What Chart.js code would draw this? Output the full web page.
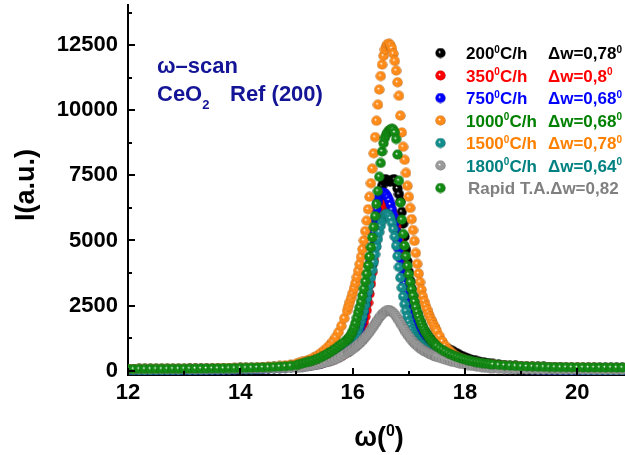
<!DOCTYPE html>
<html>
<head>
<meta charset="utf-8">
<script src="https://cdn.jsdelivr.net/npm/chart.js@4.4.1/dist/chart.umd.min.js"></script>
<style>
  html, body { margin: 0; padding: 0; background: #fff; }
  #wrap { width: 625px; height: 455px; }
</style>
</head>
<body>
<div id="wrap"><canvas id="scan"></canvas></div>
<script>
const FONT = '"Liberation Sans", Arial, sans-serif';

// omega grid (deg): coarse in the tails, fine across the peak
const omega = [
  12.0,12.1,12.2,12.3,12.4,12.5,12.6,12.7,12.8,12.9,13.0,13.1,13.2,13.3,13.4,13.5,13.6,13.7,13.8,13.9,
  14.0,14.1,14.2,14.3,14.4,14.5,14.6,14.7,14.8,14.9,15.0,
  15.05,15.1,15.15,15.2,15.25,15.3,15.35,15.4,15.45,15.5,15.55,15.6,15.65,15.7,15.75,15.8,15.85,
  15.9,15.925,15.95,15.975,16.0,16.025,16.05,16.075,16.1,16.125,16.15,16.175,16.2,16.225,16.25,16.275,
  16.3,16.325,16.35,16.375,16.4,16.425,16.45,16.475,16.5,16.525,16.55,16.575,16.6,16.625,16.65,16.675,
  16.7,16.725,16.75,16.775,16.8,16.825,16.85,16.875,16.9,16.925,16.95,16.975,17.0,17.025,17.05,17.075,
  17.1,17.125,17.15,17.175,17.2,17.225,17.25,17.275,17.3,17.325,17.35,17.375,17.4,17.425,17.45,17.475,17.5,
  17.55,17.6,17.65,17.7,17.75,17.8,17.85,17.9,17.95,18.0,18.05,18.1,18.15,18.2,18.25,18.3,18.35,18.4,18.45,18.5,
  18.6,18.7,18.8,18.9,19.0,19.1,19.2,19.3,19.4,19.5,19.6,19.7,19.8,19.9,20.0,20.1,20.2,20.3,20.4,20.5,20.6,20.7,20.8
];

const rate200 = [
  50,51,52,53,54,55,56,57,58,59,60,62,64,66,68,70,72,75,78,81,85,89,93,98,103,109,116,124,135,150,165,
  180,190,200,215,230,250,270,295,320,350,385,425,470,530,600,680,780,
  900,960,1030,1100,1180,1270,1370,1480,1600,1740,1890,2060,2250,2470,2720,3000,3320,3680,4080,4500,
  4900,5350,5850,6350,6800,7100,7280,7350,7330,7290,7260,7280,7320,7350,7330,7200,7000,6780,6500,6100,
  5650,5150,4650,4200,3800,3450,3150,2870,2620,2400,2200,2030,1880,1750,1640,1540,1450,1370,1300,1240,
  1180,1130,1080,1040,1000,
  960,920,880,840,790,730,670,610,560,510,470,430,400,370,345,322,302,285,270,256,
  232,212,196,182,170,160,152,145,139,134,130,126,123,120,118,116,114,112,111,110,109,108,107
];

const rate350 = [
  20,20,21,22,23,24,25,26,27,28,30,32,34,36,38,40,43,46,50,54,59,64,70,77,85,94,104,115,127,140,154,
  162,172,184,197,211,227,245,265,288,314,343,376,414,457,506,562,625,
  695,740,790,845,905,975,1050,1140,1240,1360,1500,1660,1850,2070,2320,2610,2950,3340,3780,4250,
  4730,5180,5570,5880,6110,6270,6380,6440,6460,6440,6380,6280,6140,5970,5770,5540,5290,5010,4710,4390,
  4060,3720,3390,3080,2790,2530,2300,2100,1920,1760,1620,1500,1390,1290,1200,1120,1050,990,935,885,
  840,800,760,725,690,
  630,578,532,490,452,418,386,357,330,306,284,264,245,228,212,198,185,173,162,152,
  134,119,106,95,86,78,71,65,60,56,52,49,46,44,42,40,38,37,36,35,34,33,32
];

const rate750 = [
  0,0,1,2,3,4,5,6,7,8,10,12,14,16,18,20,23,26,30,34,39,44,50,57,65,74,84,95,107,120,134,
  145,158,172,187,203,220,240,262,287,315,347,383,425,473,528,590,660,
  740,790,850,920,1000,1090,1190,1310,1450,1610,1800,2020,2270,2560,2890,3270,3700,4200,4750,5300,
  5800,6200,6500,6700,6800,6840,6840,6810,6750,6660,6540,6380,6180,5950,5680,5360,5020,4670,4320,3980,
  3650,3340,3050,2780,2530,2310,2110,1930,1770,1630,1500,1390,1290,1200,1120,1050,990,930,880,830,
  790,750,710,680,650,
  600,555,515,478,444,412,382,354,328,304,282,262,243,225,208,192,177,163,150,138,
  116,97,81,67,55,45,37,30,24,19,15,12,9,7,5,4,3,2,1,0,0,-1,-2
];

const rate1000 = [
  60,60,62,62,64,65,66,68,70,72,74,76,78,80,83,86,90,94,98,103,108,114,120,128,137,147,160,176,200,230,265,
  300,330,360,400,440,490,550,620,700,790,890,1000,1130,1290,1480,1720,2010,
  2300,2470,2640,2800,2980,3170,3370,3590,3830,4090,4370,4670,5000,5360,5760,6200,6680,7200,7760,8350,
  8970,9600,10220,10800,11320,11760,12100,12340,12480,12550,12560,12500,12380,12180,11900,11530,11080,10560,9800,9150,
  8600,8100,7600,7100,6680,6250,5820,5400,4980,4520,4100,3730,3400,3110,2850,2660,2490,2350,2210,2080,
  1960,1840,1730,1620,1520,
  1320,1120,950,820,720,630,560,500,450,410,375,345,320,298,280,264,250,238,227,217,
  200,186,174,164,155,147,140,134,129,124,120,116,113,110,107,105,103,101,99,97,96,95,94
];

const rate1500 = [
  10,10,11,12,12,13,14,15,16,17,18,20,22,24,26,28,31,34,38,42,47,52,58,65,73,82,92,103,115,128,140,
  150,165,180,195,210,230,250,275,300,330,365,405,450,505,570,630,690,
  750,820,900,990,1090,1200,1320,1450,1590,1750,1920,2110,2310,2530,2770,3030,3300,3580,3870,4170,
  4470,4770,5060,5330,5570,5770,5910,5990,6020,6010,5950,5840,5670,5440,5150,4800,4400,3980,3570,3190,
  2850,2550,2290,2070,1880,1720,1580,1460,1350,1260,1180,1110,1050,990,940,890,850,810,770,735,
  700,670,640,615,590,
  550,510,475,440,410,380,350,325,300,278,258,240,222,206,192,178,166,155,145,136,
  120,106,94,84,75,67,60,54,49,44,40,36,33,30,28,26,24,22,21,20,19,18,17
];

const rate1800 = [
  40,40,41,41,42,42,43,44,45,46,47,48,49,50,52,54,56,58,60,62,64,67,70,73,76,80,84,89,95,101,108,
  120,135,150,165,180,200,220,245,270,300,330,365,400,440,485,550,620,
  680,715,750,790,830,870,910,955,1000,1050,1105,1160,1220,1285,1350,1420,1490,1565,1640,1720,
  1800,1880,1960,2040,2110,2170,2220,2260,2290,2300,2300,2290,2260,2220,2160,2090,2010,1920,1830,1740,
  1650,1560,1470,1390,1310,1240,1170,1110,1050,1000,950,905,865,825,790,755,725,695,665,640,
  615,590,570,550,530,
  490,455,420,388,358,330,303,278,255,233,213,194,176,160,145,131,118,106,95,85,
  70,60,52,46,42,39,37,35,34,33,32,31,30,30,29,29,28,28,27,27,26,26,25
];

const rapidTA = [
  60,60,61,62,63,64,65,66,68,70,72,74,76,78,80,83,86,89,92,96,100,105,110,116,123,131,140,152,167,185,210,
  250,275,300,330,360,395,435,480,530,585,645,710,780,855,935,1020,1100,
  1180,1240,1310,1400,1520,1660,1830,2030,2230,2430,2640,2880,3140,3420,3720,4040,4380,4740,5120,5520,
  5940,6400,6900,7450,7980,8420,8740,8950,9080,9170,9230,9270,9290,9260,9150,8900,8300,7300,6450,5800,
  5250,4800,4400,4030,3700,3400,3130,2880,2650,2440,2250,2080,1930,1800,1680,1570,1470,1380,1300,1230,
  1160,1100,1040,990,940,
  860,790,730,670,620,570,530,490,455,425,395,370,345,325,305,288,272,258,245,233,
  215,200,187,176,166,158,151,145,140,136,132,129,126,124,122,120,118,117,116,115,114,113,112
];

const series = [rate200, rate350, rate750, rate1000, rate1500, rate1800, rapidTA];

// legend entries, in plotting order
const legendRates = ['200', '350', '750', '1000', '1500', '1800', 'Rapid T.A.'];
const legendFwhm  = ['0,78', '0,8', '0,68', '0,68', '0,78', '0,64', '0,82'];

const markerColors = ['#000000', '#ff0000', '#0000ff', '#ff8c1a', '#138c8c', '#9a9a9a', '#138a13'];
const textColors   = ['#000000', '#ff0000', '#0000ff', '#008000', '#ff8000', '#008080', '#808080'];

const xTicks = [12, 14, 16, 18, 20];
const xMinor = [13, 15, 17, 19];
const yTicks = [0, 2500, 5000, 7500, 10000, 12500];
const yMinor = [1250, 3750, 6250, 8750, 11250, 13750];

function shade(hex, f) {
  const n = parseInt(hex.slice(1), 16);
  return `rgb(${((n >> 16) & 255) * f | 0},${((n >> 8) & 255) * f | 0},${(n & 255) * f | 0})`;
}

// small shaded sphere used as the point marker
function ball(color) {
  const c = document.createElement('canvas');
  c.width = c.height = 11;
  const g = c.getContext('2d');
  const grad = g.createRadialGradient(4.4, 4.4, 0.2, 5.5, 5.5, 5.3);
  grad.addColorStop(0, '#ffffff');
  grad.addColorStop(0.25, color);
  grad.addColorStop(0.8, color);
  grad.addColorStop(1, shade(color, 0.6));
  g.fillStyle = grad;
  g.beginPath();
  g.arc(5.5, 5.5, 5.1, 0, Math.PI * 2);
  g.fill();
  return c;
}
const balls = markerColors.map(ball);

// text with optional superscript / subscript pieces
function drawParts(ctx, parts, x, base, size, color) {
  ctx.fillStyle = color;
  ctx.textAlign = 'left';
  ctx.textBaseline = 'alphabetic';
  for (const [t, kind] of parts) {
    const s = kind ? Math.round(size * 0.6) : size;
    ctx.font = `bold ${s}px ${FONT}`;
    const dy = kind === 'sup' ? -size * 0.36 : kind === 'sub' ? size * 0.36 : 0;
    ctx.fillText(t, x, base + dy);
    x += ctx.measureText(t).width;
  }
  return x;
}

function partsWidth(ctx, parts, size) {
  let w = 0;
  for (const [t, kind] of parts) {
    ctx.font = `bold ${kind ? Math.round(size * 0.6) : size}px ${FONT}`;
    w += ctx.measureText(t).width;
  }
  return w;
}

const decor = {
  id: 'decor',
  afterDraw(chart) {
    const { ctx, chartArea: a, scales: { x, y } } = chart;
    ctx.save();

    // inward tick marks
    ctx.strokeStyle = '#000';
    ctx.lineWidth = 2;
    ctx.beginPath();
    const tick = (scale, vals, len, horiz) => vals.forEach(v => {
      const p = Math.round(scale.getPixelForValue(v));
      if (horiz) { ctx.moveTo(p, a.bottom); ctx.lineTo(p, a.bottom - len); }
      else { ctx.moveTo(a.left, p); ctx.lineTo(a.left + len, p); }
    });
    tick(x, xTicks, 7, true);
    tick(x, xMinor, 4, true);
    tick(y, yTicks, 7, false);
    tick(y, yMinor, 4, false);
    ctx.stroke();

    // sample label
    const navy = '#141496';
    drawParts(ctx, [['ω–scan']], 157, 73, 22, navy);
    drawParts(ctx, [['CeO'], ['2', 'sub']], 157, 101, 22, navy);
    drawParts(ctx, [['Ref (200)']], 230, 101, 22, navy);

    // legend
    legendRates.forEach((r, i) => {
      const yy = 53 + i * 22.5;
      ctx.drawImage(balls[i], 435, yy - 5.5);
      const base = yy + 6;
      if (i < 6) {
        drawParts(ctx, [[r], ['0', 'sup'], ['C/h']], 466, base, 17, textColors[i]);
        drawParts(ctx, [['Δw=' + legendFwhm[i]], ['0', 'sup']], 548, base, 17, textColors[i]);
      } else {
        drawParts(ctx, [[r + 'Δw=' + legendFwhm[i]]], 468, base, 17, textColors[i]);
      }
    });

    // axis titles
    const xt = [['ω('], ['0', 'sup'], [')']];
    drawParts(ctx, xt, 379 - partsWidth(ctx, xt, 27) / 2, 446, 27, '#000');

    ctx.translate(27, 185);
    ctx.rotate(-Math.PI / 2);
    ctx.font = `bold 27px ${FONT}`;
    ctx.fillStyle = '#000';
    ctx.textAlign = 'center';
    ctx.textBaseline = 'middle';
    ctx.fillText('I(a.u.)', 0, 0);
    ctx.restore();
  }
};

const tickFont = { family: FONT, size: 22, weight: 'bold' };

new Chart(document.getElementById('scan'), {
  type: 'scatter',
  data: {
    datasets: series.map((ys, i) => ({
      data: ys.map((v, k) => ({ x: omega[k], y: v })),
      pointStyle: balls[i],
      pointRadius: 5,
      showLine: false,
      order: series.length - 1 - i
    }))
  },
  options: {
    responsive: true,
    maintainAspectRatio: false,
    animation: false,
    devicePixelRatio: 1,
    layout: { autoPadding: false, padding: { top: 5, right: 0, bottom: 0, left: 0 } },
    plugins: { legend: { display: false }, tooltip: { enabled: false } },
    scales: {
      x: {
        type: 'linear', min: 12, max: 20.85,
        grid: { display: false, drawTicks: false },
        border: { display: true, color: '#000', width: 2 },
        ticks: { font: tickFont, color: '#000', padding: 5, maxRotation: 0, callback: v => String(v) },
        afterBuildTicks: s => { s.ticks = xTicks.map(v => ({ value: v })); },
        afterFit: s => { s.height = 80; s.paddingLeft = 0; s.paddingRight = 0; }
      },
      y: {
        type: 'linear', min: -170, max: 14050,
        grid: { display: false, drawTicks: false },
        border: { display: true, color: '#000', width: 2 },
        ticks: { font: tickFont, color: '#000', padding: 10, callback: v => String(v) },
        afterBuildTicks: s => { s.ticks = yTicks.map(v => ({ value: v })); },
        afterFit: s => { s.width = 128; s.paddingTop = 0; s.paddingBottom = 0; }
      }
    }
  },
  plugins: [decor]
});
</script>
</body>
</html>
